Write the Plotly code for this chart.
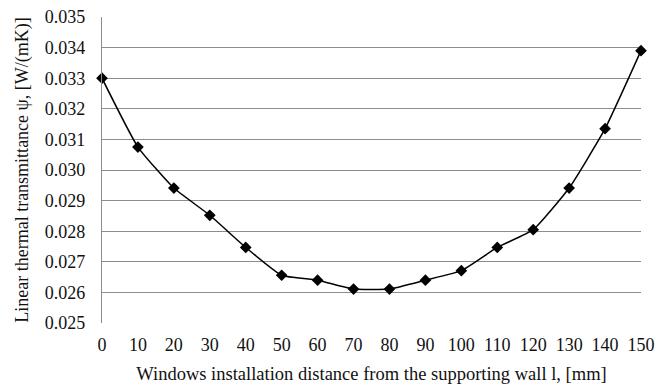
import plotly.graph_objects as go

distance_mm = [0, 10, 20, 30, 40, 50, 60, 70, 80, 90, 100, 110, 120, 130, 140, 150]
psi_values = [0.0330, 0.03075, 0.02941, 0.02852, 0.02747, 0.02656, 0.02640, 0.02611,
              0.02611, 0.02640, 0.02671, 0.02747, 0.02805, 0.02941, 0.03135, 0.03390]
y_ticks = [0.025, 0.026, 0.027, 0.028, 0.029, 0.030, 0.031, 0.032, 0.033, 0.034, 0.035]
x_ticks = list(range(0, 151, 10))

fig = go.Figure()
fig.add_trace(go.Scatter(
    x=distance_mm, y=psi_values, mode="lines+markers",
    line=dict(color="black", width=1.5, shape="spline", smoothing=0.45),
    marker=dict(symbol="diamond", size=9, color="black"),
    showlegend=False, cliponaxis=False,
))

font = dict(family="Liberation Serif, Times New Roman, serif", size=18, color="#111")

fig.update_layout(
    width=655, height=388,
    margin=dict(l=102, r=14, t=17, b=65, autoexpand=False),
    paper_bgcolor="white", plot_bgcolor="white",
    font=font,
    xaxis=dict(
        range=[0, 150], tickvals=x_ticks, ticktext=[str(v) for v in x_ticks],
        showgrid=False, zeroline=False, showline=False, automargin=False,
        ticks="outside", ticklen=5, tickcolor="rgba(0,0,0,0)",
        tickfont=dict(size=18),
        title=dict(text="Windows installation distance from the supporting wall l, [mm]",
                   font=dict(size=18.5), standoff=13),
    ),
    yaxis=dict(
        range=[0.025, 0.035], tickvals=y_ticks, ticktext=[f"{v:.3f}" for v in y_ticks],
        showgrid=True, gridcolor="#8c8c8c", gridwidth=1.2, zeroline=False,
        showline=True, linecolor="#8c8c8c", linewidth=1.2, automargin=False,
        ticks="outside", ticklen=12, tickcolor="rgba(0,0,0,0)",
        tickfont=dict(size=18),
        title=dict(text="Linear thermal transmittance ψ, [W/(mK)]",
                   font=dict(size=18), standoff=11),
    ),
)

fig.write_html("out.html")
